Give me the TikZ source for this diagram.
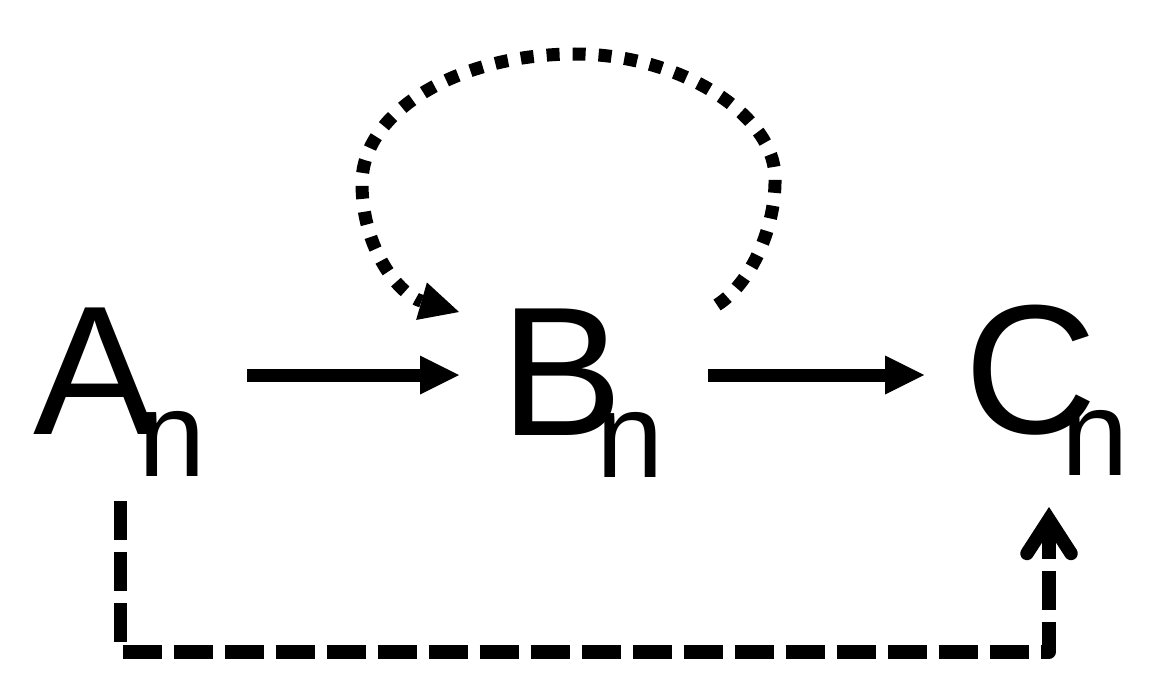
\documentclass[tikz,border=0pt]{standalone}
\usepackage{fontspec}
\setmainfont{Liberation Sans}
\usetikzlibrary{arrows.meta}
\newcommand\mylabel[2]{{\fontsize{184pt}{184pt}\selectfont #1}\kern#2\raisebox{-42pt}{\fontsize{121pt}{121pt}\selectfont n}}
\begin{document}
\begin{tikzpicture}[x=1pt,y=-1pt,
  lbl/.style={anchor=base west,inner sep=0pt,outer sep=0pt},
  solidarrow/.style={line width=13pt,-{Triangle[length=39pt,width=39pt,line width=0pt]}},
  dotloop/.style={line width=13pt,dash pattern=on 13pt off 13pt,-{Triangle[length=39pt,width=39pt,line width=0pt]}},
  dashpath/.style={line width=13.5pt,dash pattern=on 39pt off 12pt,line join=round,-{Straight Barb[length=34pt,width=44pt,line cap=round,line join=miter]}}
]
\useasboundingbox (0,0) rectangle (1153,698);
\node[lbl] (A) at (33,434) {\mylabel{A}{-17.7pt}};
\node[lbl] (B) at (500,435) {\mylabel{B}{-26.7pt}};
\node[lbl] (C) at (964,433) {\mylabel{C}{-35pt}};
\draw[solidarrow] ([shift={(214,-59)}]A.base west) -- ([shift={(-41,-60)}]B.base west);
\draw[solidarrow] ([shift={(208,-60)}]B.base west) -- ([shift={(-40,-58)}]C.base west);
\begin{scope}[shift={(B.base west)}]
\draw[dotloop] (217,-130) .. controls (252,-152) and (276,-210) .. (275,-257)
  .. controls (275,-320) and (180,-381) .. (75,-381)
  .. controls (-42,-381) and (-138,-323) .. (-138,-252)
  .. controls (-138,-185) and (-100,-140) .. (-41,-123);
\end{scope}
\draw[dashpath] ([shift={(87.5,67)}]A.base west) |- ([shift={(85,219)}]C.base west) -- ([shift={(85,74)}]C.base west);
\end{tikzpicture}
\end{document}
